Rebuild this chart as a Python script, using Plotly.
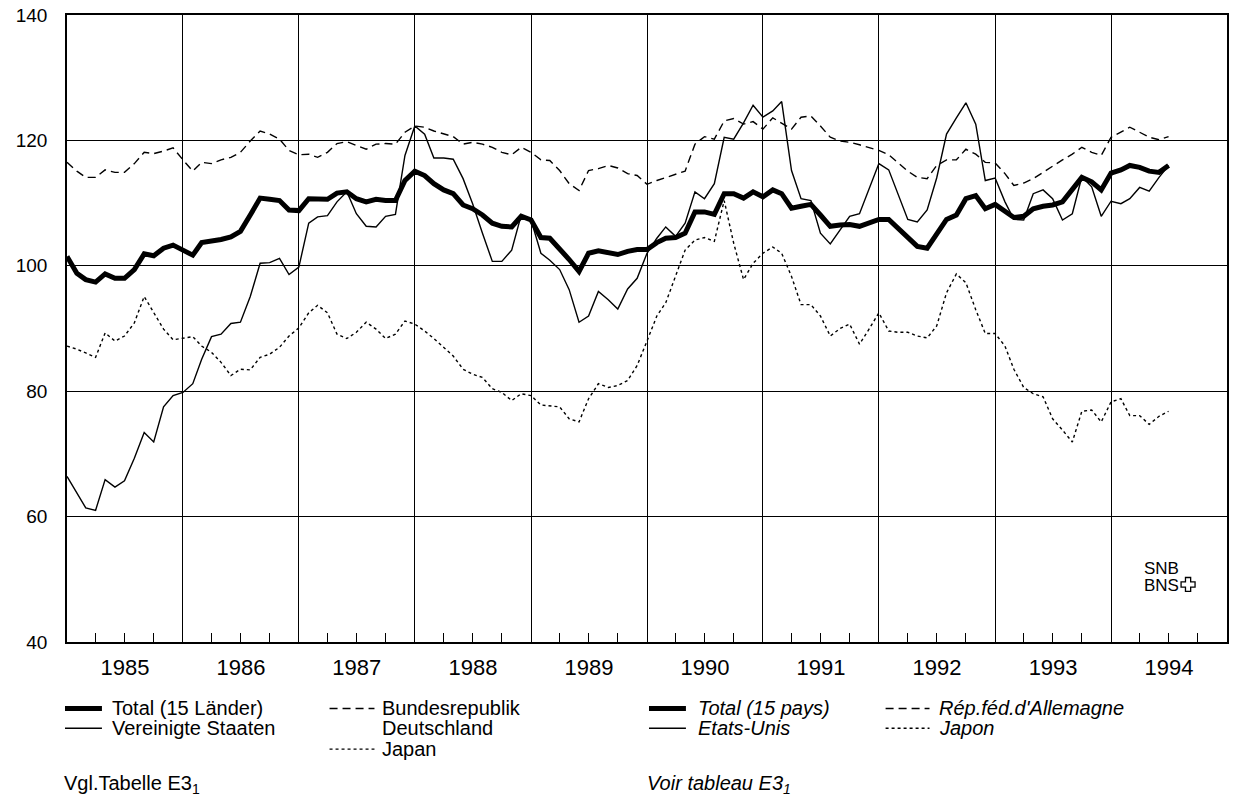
import pandas as pd
import plotly.graph_objects as go

# ---- data (monthly, Jan 1985 - Jul 1994) ----
months = pd.date_range("1985-01-01", periods=115, freq="MS")

total = [
    101.5, 98.8, 97.8, 97.4, 98.7, 98.0, 98.0, 99.4, 101.9, 101.6, 102.8, 103.3,
    102.5, 101.7, 103.7, 103.9, 104.2, 104.6, 105.5, 108.1, 110.8, 110.6, 110.4, 108.9,
    108.8, 110.7, 110.7, 110.6, 111.6, 111.8, 110.7, 110.2, 110.6, 110.4, 110.4, 113.6,
    115.1, 114.4, 113.1, 112.1, 111.5, 109.7, 109.1, 108.1, 106.8, 106.3, 106.2, 107.9,
    107.3, 104.5, 104.4, 102.8, 101.0, 99.1, 102.0, 102.4, 102.0, 101.8, 102.3, 102.6,
    102.6, 103.7, 104.4, 104.5, 105.2, 108.6, 108.6, 108.2, 111.5, 111.5, 110.8, 111.8,
    111.0, 112.1, 111.5, 109.2, 109.5, 109.8, 108.1, 106.3, 106.5, 106.6, 106.3, 106.9,
    107.4, 107.4, 106.1, 104.7, 103.1, 102.8, 105.0, 107.4, 108.1, 110.7, 111.2, 109.1,
    109.8, 108.6, 107.7, 107.9, 109.1, 109.5, 109.7, 110.2, 112.1, 114.1, 113.4, 112.1,
    114.8, 115.3, 116.0, 115.7, 115.1, 114.9, 116.0,
]

usa = [
    66.4, 63.7, 61.4, 61.0, 65.9, 64.7, 65.7, 69.3, 73.4, 71.9, 77.5, 79.3,
    79.8, 81.2, 85.1, 88.7, 89.1, 90.8, 91.0, 95.1, 100.4, 100.5, 101.2, 98.6,
    99.8, 106.8, 107.8, 108.0, 110.2, 111.8, 108.3, 106.3, 106.2, 107.9, 108.2, 117.6,
    122.3, 121.0, 117.2, 117.2, 117.0, 113.9, 109.9, 105.2, 100.7, 100.7, 102.5, 108.1,
    107.3, 102.0, 100.9, 99.4, 96.2, 91.0, 92.0, 95.9, 94.6, 93.1, 96.3, 98.0,
    102.0, 104.4, 106.2, 104.7, 106.8, 111.8, 110.7, 113.1, 120.5, 120.2, 122.8, 125.6,
    123.7, 124.7, 126.2, 115.2, 110.7, 110.4, 105.2, 103.5, 105.7, 107.9, 108.3, 112.1,
    116.3, 115.3, 111.5, 107.4, 107.0, 108.9, 114.0, 121.0, 123.6, 126.0, 122.6, 113.6,
    114.0, 110.2, 107.4, 107.3, 111.5, 112.1, 110.7, 107.3, 108.3, 114.2, 112.6, 107.9,
    110.3, 109.9, 110.7, 112.5, 111.9, 114.1, 116.0,
]

germany = [
    116.5, 115.1, 114.1, 114.1, 115.3, 114.9, 114.9, 116.3, 118.1, 117.9, 118.3, 118.8,
    116.9, 115.1, 116.5, 116.3, 116.9, 117.3, 118.1, 119.9, 121.5, 121.0, 120.2, 118.4,
    117.7, 117.8, 117.3, 118.1, 119.5, 119.8, 119.2, 118.6, 119.4, 119.5, 119.4, 121.3,
    122.3, 122.1, 121.5, 121.1, 120.6, 119.4, 119.7, 119.4, 118.9, 118.1, 117.7, 118.9,
    118.1, 116.9, 116.8, 115.2, 113.1, 112.0, 115.2, 115.5, 116.0, 115.6, 114.7, 114.4,
    113.0, 113.6, 114.1, 114.6, 115.1, 119.4, 120.6, 120.2, 123.1, 123.5, 122.6, 123.0,
    121.8, 123.6, 122.7, 121.8, 123.7, 123.9, 122.3, 120.5, 119.9, 119.7, 119.3, 118.9,
    118.4, 117.7, 116.4, 115.1, 114.1, 113.9, 116.0, 116.9, 116.9, 118.6, 117.8, 116.5,
    116.4, 114.7, 112.8, 113.2, 113.9, 114.9, 116.0, 116.9, 117.8, 118.9, 118.1, 117.6,
    120.5, 121.3, 122.1, 121.3, 120.5, 120.1, 120.6,
]

japan = [
    87.2, 86.7, 86.1, 85.4, 89.3, 88.0, 88.8, 90.9, 95.1, 92.5, 89.9, 88.2,
    88.5, 88.7, 87.2, 86.2, 84.6, 82.5, 83.5, 83.4, 85.4, 85.9, 87.0, 88.8,
    90.1, 92.5, 93.7, 92.5, 89.1, 88.4, 89.4, 91.0, 89.9, 88.4, 89.1, 91.2,
    90.7, 89.6, 88.4, 87.0, 85.6, 83.5, 82.7, 82.2, 80.4, 79.8, 78.5, 79.6,
    79.3, 77.8, 77.7, 77.5, 75.6, 75.1, 78.8, 81.2, 80.6, 80.9, 81.7, 84.1,
    88.0, 92.0, 94.1, 98.3, 102.5, 104.1, 104.5, 103.9, 110.4, 103.6, 97.8, 100.4,
    102.0, 103.0, 102.0, 98.3, 93.8, 93.8, 92.0, 88.8, 90.0, 90.7, 87.5, 89.9,
    92.5, 89.6, 89.4, 89.4, 88.8, 88.5, 90.4, 95.7, 98.7, 97.3, 93.0, 89.2,
    89.2, 87.2, 83.5, 80.6, 79.6, 79.1, 75.6, 73.8, 71.9, 76.8, 77.0, 75.1,
    78.3, 78.8, 76.1, 76.1, 74.7, 76.0, 76.8,
]

y_ticks = [40, 60, 80, 100, 120, 140]

# ---- geometry helpers (pixel -> paper) ----
W, H = 1234, 798
ML, MR, MT, MB = 67, 5, 10, 156
PW, PH = W - ML - MR, H - MT - MB


def px(x):
    return (x - ML) / PW


def py(y):
    return (H - MB - y) / PH


FONT = "Liberation Sans, Arial, sans-serif"

fig = go.Figure()
fig.add_trace(go.Scatter(x=months, y=japan, mode="lines",
                         line=dict(color="black", width=1.4, dash="3px,3px")))
fig.add_trace(go.Scatter(x=months, y=germany, mode="lines",
                         line=dict(color="black", width=1.4, dash="8px,5px")))
fig.add_trace(go.Scatter(x=months, y=usa, mode="lines",
                         line=dict(color="black", width=1.4)))
fig.add_trace(go.Scatter(x=months, y=total, mode="lines",
                         line=dict(color="black", width=5)))

fig.update_layout(
    width=W, height=H,
    margin=dict(l=ML, r=MR, t=MT, b=MB),
    paper_bgcolor="white", plot_bgcolor="white",
    showlegend=False,
    font=dict(family=FONT, color="black", size=19),
    xaxis=dict(
        type="date",
        range=["1985-01-01", "1995-01-01"],
        tick0="1985-01-01", dtick="M12",
        ticklabelmode="period", tickformat="%Y",
        showgrid=True, gridcolor="black", gridwidth=1.3,
        ticks="", ticklabelstandoff=5,
        showline=True, linecolor="black", linewidth=1.6, mirror=True,
        tickfont=dict(size=22),
        minor=dict(dtick="M3", tick0="1985-01-01", ticks="inside", ticklen=9,
                   tickcolor="black", tickwidth=1.3, showgrid=False),
        zeroline=False,
    ),
    yaxis=dict(
        range=[40, 140], tickvals=y_ticks,
        showgrid=True, gridcolor="black", gridwidth=1.3,
        ticks="", ticklabelstandoff=14, ticklabeloverflow="allow",
        showline=True, linecolor="black", linewidth=1.6, mirror=True,
        zeroline=False, tickfont=dict(size=19),
    ),
)

shapes = []
annotations = []


def sample(x0, x1, y, width, dash):
    shapes.append(dict(type="line", xref="paper", yref="paper",
                       x0=px(x0), x1=px(x1), y0=py(y), y1=py(y),
                       line=dict(color="black", width=width, dash=dash)))


def label(x, y, text, italic=False, size=20):
    annotations.append(dict(xref="paper", yref="paper", x=px(x), y=py(y),
                            xanchor="left", yanchor="middle", showarrow=False,
                            borderpad=0,
                            text=f"<i>{text}</i>" if italic else text,
                            font=dict(size=size, family=FONT, color="black")))


SUB1 = "<sub><span style='color:black'>1</span></sub>"
r1, r2, r3, r4 = 709, 729, 750, 786
# German legend
sample(65, 102, r1, 5, "solid")
label(111, r1, "Total (15 Länder)")
sample(65, 102, r2, 1.4, "solid")
label(111, r2, "Vereinigte Staaten")
sample(330, 375, r1, 1.4, "8px,5px")
label(382, r1, "Bundesrepublik")
label(382, r2, "Deutschland")
sample(330, 375, r3, 1.4, "3px,3px")
label(382, r3, "Japan")
label(63, r4, "Vgl.Tabelle E3" + SUB1)
# French legend
sample(650, 687, r1, 5, "solid")
label(698, r1, "Total (15 pays)", italic=True)
sample(650, 687, r2, 1.4, "solid")
label(698, r2, "Etats-Unis", italic=True)
sample(887, 931, r1, 1.4, "8px,5px")
label(940, r1, "Rép.féd.d'Allemagne", italic=True)
sample(887, 931, r2, 1.4, "3px,3px")
label(940, r2, "Japon", italic=True)
label(647, r4, "Voir tableau E3" + SUB1, italic=True)

# SNB logo
label(1145, 568, "SNB", size=17)
label(1145, 585, "BNS", size=17)
cx, cy, a, b = 1190, 584, 7, 2.6
pts = [(cx - b, cy - a), (cx + b, cy - a), (cx + b, cy - b), (cx + a, cy - b),
       (cx + a, cy + b), (cx + b, cy + b), (cx + b, cy + a), (cx - b, cy + a),
       (cx - b, cy + b), (cx - a, cy + b), (cx - a, cy - b), (cx - b, cy - b)]
path = "M " + " L ".join(f"{px(x):.5f},{py(y):.5f}" for x, y in pts) + " Z"
shapes.append(dict(type="path", xref="paper", yref="paper", path=path,
                   line=dict(color="black", width=1.3), fillcolor="white"))

fig.update_layout(shapes=shapes, annotations=annotations)
fig.write_html("out.html", config={"displayModeBar": False},
               post_script="document.body.style.margin='0';document.body.style.padding='0';")
